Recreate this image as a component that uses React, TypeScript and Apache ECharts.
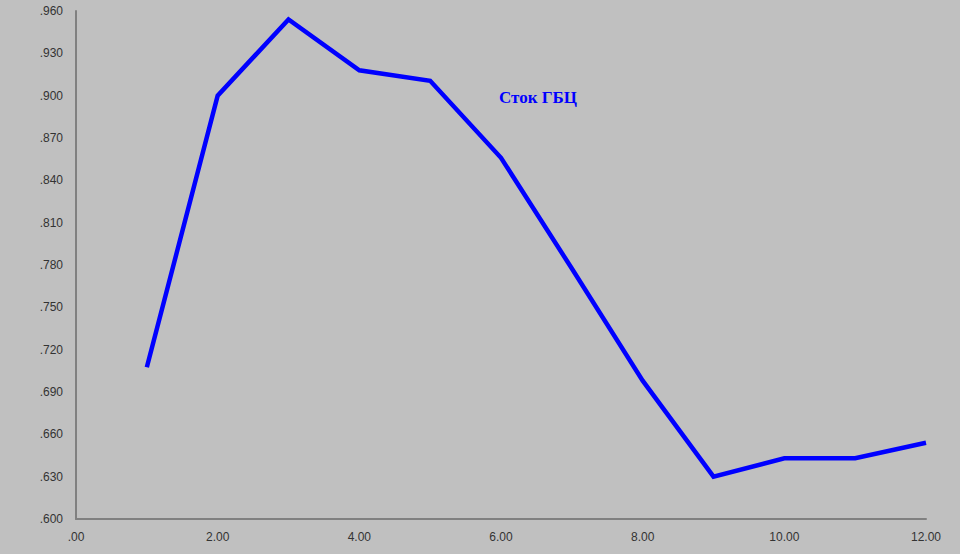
import React, { useEffect, useRef } from "react";
import * as echarts from "echarts";

const xValues = [1, 2, 3, 4, 5, 6, 7, 8, 9, 10, 11, 12];
const flowValues = [0.7075, 0.9, 0.954, 0.918, 0.9105, 0.856, 0.7775, 0.698, 0.63, 0.643, 0.643, 0.654];
const seriesLabel = "Сток ГБЦ";

export default function App() {
  const ref = useRef<HTMLDivElement>(null);
  useEffect(() => {
    if (!ref.current) return;
    const chart = echarts.init(ref.current, null, { renderer: "svg" });
    chart.setOption({
      animation: false,
      backgroundColor: "#c0c0c0",
      grid: { left: 76, right: 34, top: 11, bottom: 35 },
      xAxis: {
        type: "value",
        min: 0,
        max: 12,
        interval: 2,
        axisLine: { show: true, lineStyle: { color: "#808080", width: 2 } },
        axisTick: { show: false },
        splitLine: { show: false },
        axisLabel: {
          color: "#333333",
          fontFamily: "Liberation Sans, Arial, sans-serif",
          fontSize: 12,
          margin: 12,
          formatter: (v: number) => (v === 0 ? ".00" : v.toFixed(2)),
        },
      },
      yAxis: {
        type: "value",
        min: 0.6,
        max: 0.96,
        interval: 0.03,
        axisLine: { show: true, lineStyle: { color: "#808080", width: 2 } },
        axisTick: { show: false },
        splitLine: { show: false },
        axisLabel: {
          color: "#333333",
          fontFamily: "Liberation Sans, Arial, sans-serif",
          fontSize: 12,
          margin: 13,
          formatter: (v: number) => v.toFixed(3).replace(/^0/, ""),
        },
      },
      graphic: [
        {
          type: "text",
          left: 499,
          top: 89,
          style: {
            text: seriesLabel,
            fill: "#0000ff",
            font: "bold 17px 'Liberation Serif', 'Times New Roman', serif",
          },
        },
      ],
      series: [
        {
          type: "line",
          data: xValues.map((x, i) => [x, flowValues[i]]),
          showSymbol: false,
          lineStyle: { color: "#0000ff", width: 4.5, join: "miter" },
          itemStyle: { color: "#0000ff" },
        },
      ],
    });
    return () => chart.dispose();
  }, []);
  return (
    <div
      ref={ref}
      style={{ position: "fixed", left: 0, top: 0, width: 960, height: 554 }}
    />
  );
}
